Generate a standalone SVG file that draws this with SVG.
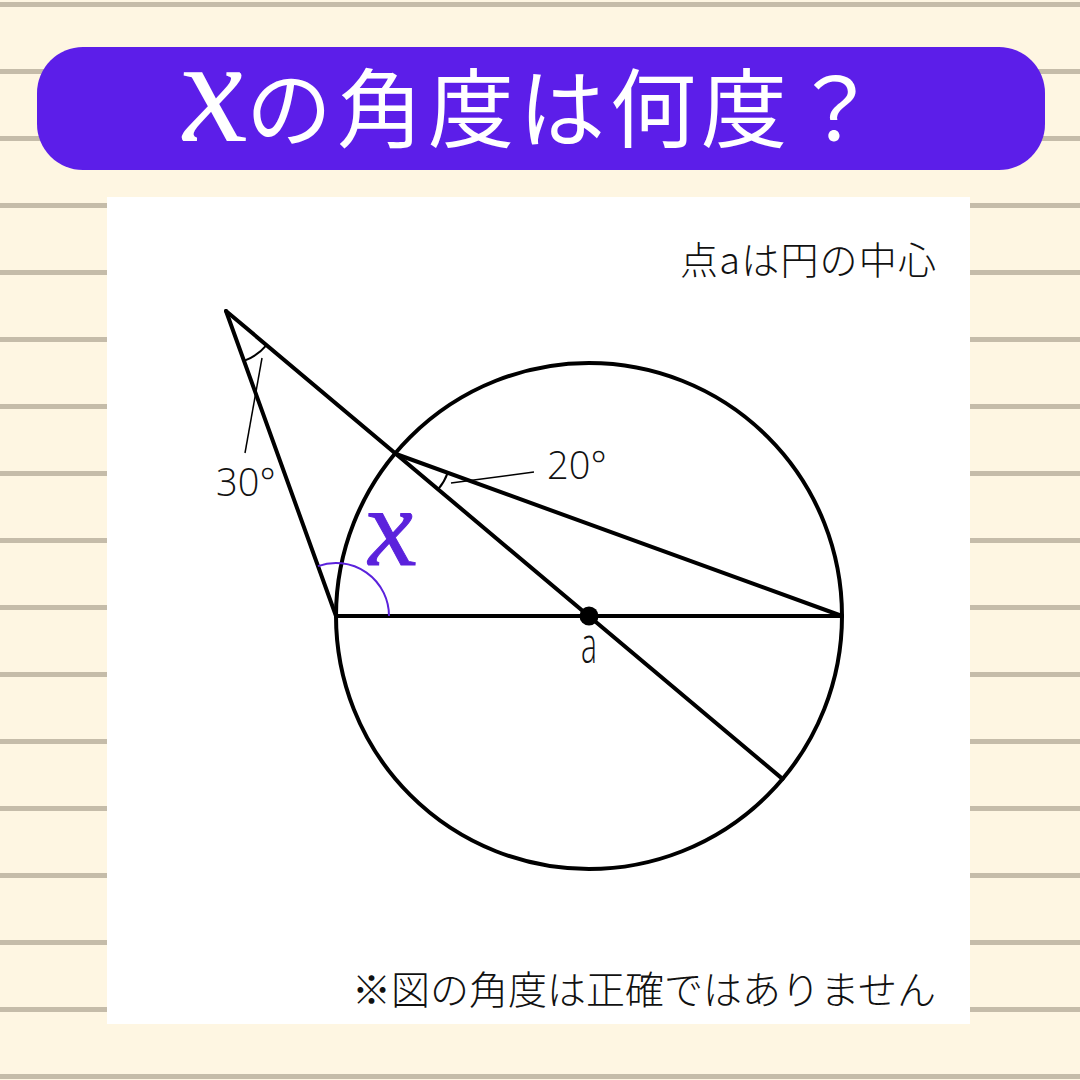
<svg xmlns="http://www.w3.org/2000/svg" width="1080" height="1080" viewBox="0 0 1080 1080">
<defs>
<style>
.rule{fill:#c5bca9}
.ln{stroke:#000;stroke-width:4;fill:none;stroke-linecap:round}
.thin{stroke:#000;stroke-width:1.5;fill:none}
.jp{font-family:"Noto Sans CJK JP","Noto Sans",sans-serif;font-weight:300;fill:#111}
.num{font-family:"Open Sans","Noto Sans",sans-serif;font-weight:300;fill:#111}
.var{font-family:"Liberation Serif",serif;font-style:italic}
</style>
</defs>
<rect x="0" y="0" width="1080" height="1080" fill="#fef6e2"/>
<g id="rules">
<rect class="rule" x="0" y="2" width="1080" height="5"/>
<rect class="rule" x="0" y="69" width="1080" height="5"/>
<rect class="rule" x="0" y="136" width="1080" height="5"/>
<rect class="rule" x="0" y="203" width="1080" height="5"/>
<rect class="rule" x="0" y="270" width="1080" height="5"/>
<rect class="rule" x="0" y="337" width="1080" height="5"/>
<rect class="rule" x="0" y="404" width="1080" height="5"/>
<rect class="rule" x="0" y="471" width="1080" height="5"/>
<rect class="rule" x="0" y="538" width="1080" height="5"/>
<rect class="rule" x="0" y="605" width="1080" height="5"/>
<rect class="rule" x="0" y="672" width="1080" height="5"/>
<rect class="rule" x="0" y="739" width="1080" height="5"/>
<rect class="rule" x="0" y="806" width="1080" height="5"/>
<rect class="rule" x="0" y="873" width="1080" height="5"/>
<rect class="rule" x="0" y="940" width="1080" height="5"/>
<rect class="rule" x="0" y="1007" width="1080" height="5"/>
<rect class="rule" x="0" y="1074" width="1080" height="5"/>
</g>
<g id="banner">
<rect x="37" y="47" width="1008" height="123" rx="46" ry="46" fill="#5c1ee9"/>
<text class="var" transform="translate(184,141) skewX(7)" x="0" y="0" fill="#fff" font-size="150">x</text>
<text x="246" y="141" fill="#fff" font-family="'Noto Sans CJK JP','Noto Sans',sans-serif" font-weight="400" font-size="86" letter-spacing="5">の角度は何度？</text>
</g>
<rect id="panel" x="107" y="197" width="863" height="827" fill="#fff"/>
<text id="note-center" class="jp" x="680" y="274" font-size="38" textLength="256" lengthAdjust="spacing">点aは円の中心</text>
<text id="note-bottom" class="jp" x="352" y="1004" font-size="39" textLength="584" lengthAdjust="spacing">※図の角度は正確ではありません</text>
<g id="figure">
<circle id="circle" cx="589" cy="616" r="253" class="ln"/>
<g id="connectors">
<line class="ln" x1="226" y1="311" x2="782.5" y2="778.9"/>
<line class="ln" x1="396" y1="454" x2="842" y2="616"/>
<line class="ln" x1="226" y1="311" x2="336" y2="616"/>
<line class="ln" x1="336" y1="616" x2="842" y2="616"/>
</g>
<g id="angle-30">
<path class="ln" style="stroke-width:2" d="M244,360.9 A53,53 0 0 0 266.5,345.1"/>
<line class="thin" x1="262" y1="358" x2="245" y2="453"/>
<text class="num" x="216" y="496" font-size="38">30°</text>
</g>
<g id="angle-20">
<path class="ln" style="stroke-width:2" d="M438.1,489.4 A55,55 0 0 0 447.7,472.8"/>
<line class="thin" x1="451" y1="483" x2="534" y2="472"/>
<text class="num" x="547" y="479" font-size="38">20°</text>
</g>
<g id="angle-x">
<path d="M389,616 A53,53 0 0 0 318,566.1" fill="none" stroke="#5b22dc" stroke-width="2"/>
<text class="var" transform="translate(369,565) skewX(7)" x="0" y="0" font-size="112" fill="#5b22dc" stroke="#5b22dc" stroke-width="1">x</text>
</g>
<g id="center-a">
<circle cx="589" cy="616" r="9.5" fill="#000"/>
<text class="num" transform="translate(589,663) scale(0.6,1)" x="0" y="0" font-size="50" text-anchor="middle">a</text>
</g>
</g>
</svg>
